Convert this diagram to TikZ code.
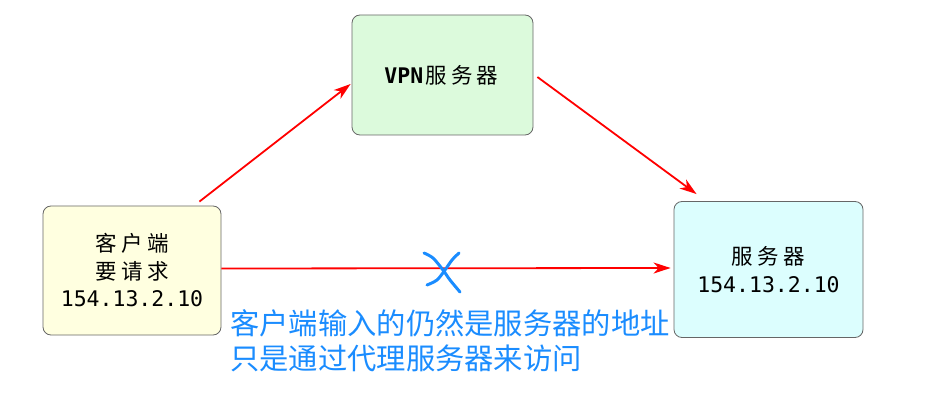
\documentclass[tikz,border=0pt]{standalone}
\usepackage{fontspec}
\setmonofont{DejaVu Sans Mono}
\newfontfamily\cjk{Noto Sans CJK SC}
\usetikzlibrary{arrows.meta,calc}
\definecolor{boxline}{HTML}{666666}
\definecolor{clientfill}{HTML}{FFFFE0}
\definecolor{vpnfill}{HTML}{DCFADC}
\definecolor{serverfill}{HTML}{DCFEFE}
\definecolor{noteblue}{HTML}{1A8CFF}
\newcommand{\zw}[1]{\makebox[1.2em]{\cjk #1}}
\tikzset{
  boxnode/.style={draw=boxline, line width=0.8pt, rounded corners=8pt, align=center,
    font=\fontsize{21.5}{27.5}\selectfont\ttfamily, inner sep=0pt},
  redarrow/.style={draw=red, line width=1.8pt, -{Stealth[length=17pt,width=11pt,inset=5pt]}},
  crossline/.style={draw=noteblue, line width=3pt, line cap=round, line join=round},
}
\begin{document}
\begin{tikzpicture}[x=1pt,y=-1pt]
\useasboundingbox (0,0) rectangle (927,401);
\node[boxnode, fill=clientfill, minimum width=178pt, minimum height=129pt] (client) at (132,270.5)
  {\zw{客}\zw{户}\zw{端}\\\zw{要}\zw{请}\zw{求}\\154.13.2.10};
\node[boxnode, fill=vpnfill, minimum width=181pt, minimum height=120pt] (vpn) at (442.5,75)
  {\textbf{VPN}\zw{服}\zw{务}\zw{器}};
\node[boxnode, fill=serverfill, minimum width=189pt, minimum height=136pt] (server) at (768.5,269.5)
  {\zw{服}\zw{务}\zw{器}\\154.13.2.10};
\draw[redarrow] ([xshift=-22pt,yshift=4pt]client.north east) -- ([xshift=-1pt,yshift=-9pt]vpn.west);
\draw[redarrow] ([xshift=4pt,yshift=-2pt]vpn.east) -- ([xshift=23pt,yshift=7pt]server.north west);
\draw[redarrow] ([yshift=2pt]client.east) -- ([xshift=-3pt,yshift=1.5pt]server.west);
\draw[crossline] plot[smooth] coordinates {(424,253) (433,258) (443,270) (450,280) (460,292)};
\draw[crossline] plot[smooth] coordinates {(459,253) (452,260) (445,270) (437,280) (427,285)};
\node[anchor=north west, align=left, text=noteblue, inner sep=0pt,
  font=\cjk\fontsize{29.3}{35}\selectfont] (note) at (230,309)
  {客户端输入的仍然是服务器的地址\\只是通过代理服务器来访问};
\end{tikzpicture}
\end{document}
